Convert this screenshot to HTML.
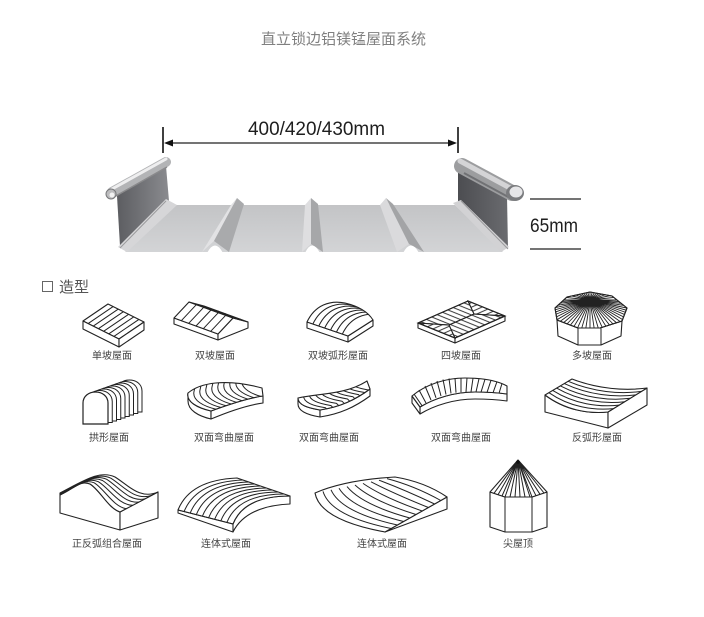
<!DOCTYPE html>
<html><head><meta charset="utf-8"><style>
html,body{margin:0;padding:0;background:#fff;}
svg{display:block;}
.o{fill:#fff;stroke:#222;stroke-width:1.1;stroke-linejoin:round;}
.s{fill:none;stroke:#222;stroke-width:1;}
.lb{font-family:"Liberation Sans","Noto Sans CJK SC",sans-serif;font-size:10px;fill:#444;text-anchor:middle;}
</style></head><body>
<svg width="704" height="617" viewBox="0 0 704 617" xmlns="http://www.w3.org/2000/svg" xmlns:xlink="http://www.w3.org/1999/xlink">
<defs>
<linearGradient id="gFlat" x1="0" y1="0" x2="0" y2="1"><stop offset="0" stop-color="#c3c4c6"/><stop offset="1" stop-color="#d3d4d6"/></linearGradient>
<linearGradient id="gLW" x1="0" y1="0" x2="1" y2="0"><stop offset="0" stop-color="#5c5d61"/><stop offset="1" stop-color="#8a8b8f"/></linearGradient>
<linearGradient id="gRW" x1="0" y1="0" x2="1" y2="0"><stop offset="0" stop-color="#4c4d51"/><stop offset="1" stop-color="#6a6b6f"/></linearGradient>
<pattern id="hA" patternUnits="userSpaceOnUse" width="4.2" height="10" patternTransform="rotate(112)"><line x1="2" y1="0" x2="2" y2="10" stroke="#222" stroke-width="0.9"/></pattern>
<pattern id="hB" patternUnits="userSpaceOnUse" width="4.2" height="10" patternTransform="rotate(66)"><line x1="2" y1="0" x2="2" y2="10" stroke="#222" stroke-width="0.9"/></pattern>
<clipPath id="cp3"><path d="M307,322 C315,305 330,300 345,303 C358,306 368,312 373,320 L348,336 Z"/></clipPath>
<clipPath id="cp5"><polygon points="567,297 590,292 612,296 627,308 622,321 600,328 578,328 557,320 555,308"/></clipPath>
<clipPath id="cp6"><path d="M211,411 C198,408 186,402 188,393 C200,383 225,378 262,388 L263,396 C248,398 230,404 211,411 Z"/></clipPath>
<clipPath id="cp7"><path d="M320,410 C308,408 298,405 298,398 C320,393 345,395 367,381 L370,389 C355,400 340,407 320,410 Z"/></clipPath>
<path id="a3" d="M307,322 C315,305 330,300 345,303 C358,306 368,312 373,320"/>
<path id="arch" d="M83,424 V403 C83,396 89,392 95.5,392 C102,392 108,396 108,403 V424 Z"/>
<path id="a6" d="M213,413 L211,411 C198,408 186,402 188,393 L190,384"/>
<path id="a7" d="M322,412 L320,410 C308,408 298,405 298,398 L300,390"/>
</defs>

<!-- Title -->
<text x="343.5" y="44" font-family="Liberation Sans,Noto Sans CJK SC,sans-serif" font-size="15" fill="#808080" text-anchor="middle">直立锁边铝镁锰屋面系统</text>

<!-- Dimension -->
<text x="248" y="135" font-family="Liberation Sans,sans-serif" font-size="19" fill="#1e1e1e" textLength="137" lengthAdjust="spacingAndGlyphs">400/420/430mm</text>
<line x1="163" y1="127" x2="163" y2="153" stroke="#111" stroke-width="1.6"/>
<line x1="458" y1="127" x2="458" y2="153" stroke="#111" stroke-width="1.6"/>
<line x1="168" y1="143" x2="453" y2="143" stroke="#222" stroke-width="1.3"/>
<polygon points="164,143 173,139.5 173,146.5" fill="#111"/>
<polygon points="457,143 448,139.5 448,146.5" fill="#111"/>

<!-- Panel -->
<polygon points="174,205 455,205 503,252 125,252" fill="url(#gFlat)"/>
<polygon points="231,205 237,198 214,241 202,252" fill="#e2e2e4"/>
<polygon points="237,198 244,204 229,252 214,241" fill="#a9aaac"/>
<path d="M207,253 Q215,238 223,253 Z" fill="#fff"/>
<polygon points="305,205 311,198 311,244 302,252" fill="#dedee0"/>
<polygon points="311,198 318,204 323,252 311,244" fill="#a6a7a9"/>
<path d="M305,253 Q312,238 320,253 Z" fill="#fff"/>
<polygon points="380,205 386,198 409,244 397,252" fill="#dadadc"/>
<polygon points="386,198 393,204 424,252 409,244" fill="#a3a4a6"/>
<path d="M403,253 Q411,238 419,253 Z" fill="#fff"/>
<!-- left wall -->
<polygon points="117,196 166,166 169,201 120,246" fill="url(#gLW)"/>
<polygon points="166,199 177,205 127,252 118,247" fill="#d6d6d8"/>
<line x1="166" y1="201" x2="120" y2="248" stroke="#9a9a9c" stroke-width="1"/>
<line x1="112" y1="192" x2="166" y2="162" stroke="#b3b4b6" stroke-width="10" stroke-linecap="round"/>
<line x1="112" y1="189" x2="166" y2="159" stroke="#eeeeef" stroke-width="3" stroke-linecap="round"/>
<line x1="114" y1="197" x2="167" y2="167" stroke="#8a8a8c" stroke-width="1.4"/>
<circle cx="111" cy="194" r="5" fill="#bcbcbe" stroke="#77787a" stroke-width="1"/>
<circle cx="112" cy="195" r="2.5" fill="#f2f2f2"/>
<!-- right wall -->
<polygon points="458,168 507,196 508,249 458,206" fill="url(#gRW)"/>
<polygon points="453,203 461,200 509,247 501,252" fill="#d2d2d4"/>
<line x1="461" y1="201" x2="508" y2="249" stroke="#9a9a9c" stroke-width="1"/>
<line x1="462" y1="166" x2="512" y2="193" stroke="#9c9d9f" stroke-width="16" stroke-linecap="round"/>
<line x1="460" y1="161" x2="510" y2="188" stroke="#d4d4d6" stroke-width="5" stroke-linecap="round"/>
<line x1="464" y1="173" x2="512" y2="199" stroke="#707174" stroke-width="2"/>
<ellipse cx="515" cy="193" rx="9" ry="8" fill="#7a7b7e"/>
<ellipse cx="516" cy="192" rx="6.5" ry="5.5" fill="#e6e6e8"/>
<!-- 65mm -->
<line x1="530" y1="199" x2="581" y2="199" stroke="#222" stroke-width="1.2"/>
<line x1="530" y1="249" x2="581" y2="249" stroke="#222" stroke-width="1.2"/>
<text x="530" y="232" font-family="Liberation Sans,sans-serif" font-size="19" fill="#1e1e1e" textLength="48" lengthAdjust="spacingAndGlyphs">65mm</text>

<!-- 造型 heading -->
<rect x="42.5" y="281.5" width="10" height="10" fill="none" stroke="#666" stroke-width="1"/>
<text x="59" y="292" font-family="Liberation Sans,Noto Sans CJK SC,sans-serif" font-size="15" fill="#555">造型</text>

<!-- Icon 1 单坡屋面 -->
<polygon class="o" points="83,321 108,304 144,322 119,339"/>
<polygon class="o" points="83,321 119,339 119,347 83,329"/>
<polygon class="o" points="119,339 144,322 144,330 119,347"/>
<path class="s" d="M88.1,323.6L113.1,306.6M93.3,326.1L118.3,309.1M98.4,328.7L123.4,311.7M103.6,331.3L128.6,314.3M108.7,333.9L133.7,316.9M113.9,336.4L138.9,319.4"/>

<!-- Icon 2 双坡屋面 -->
<polygon class="o" points="174,318 218,334 218,340 174,324"/>
<polygon class="o" points="218,334 233,318 248,322 248,328 218,340"/>
<polygon class="o" points="174,318 189,302 233,318 218,334"/>
<polygon class="o" points="189,302 204,306 248,322 233,318"/>
<path class="s" d="M196.3,304.7L181.3,320.7M203.7,307.3L188.7,323.3M211,310L196,326M218.3,312.7L203.3,328.7M225.7,315.3L210.7,331.3
M196.3,304.7L211.3,308.7M203.7,307.3L218.7,311.3M211,310L226,314M218.3,312.7L233.3,316.7M225.7,315.3L240.7,319.3"/>

<!-- Icon 3 双坡弧形屋面 -->
<path class="o" d="M307,322 L348,336 L348,342 L307,328 Z"/>
<path class="o" d="M348,336 L373,320 L373,326 L348,342 Z"/>
<path class="o" d="M307,322 C315,305 330,300 345,303 C358,306 368,312 373,320 L348,336 Z"/>
<g clip-path="url(#cp3)" class="s">
<use xlink:href="#a3" href="#a3" transform="translate(5.9,2)"/>
<use xlink:href="#a3" href="#a3" transform="translate(11.8,4)"/>
<use xlink:href="#a3" href="#a3" transform="translate(17.7,6)"/>
<use xlink:href="#a3" href="#a3" transform="translate(23.6,8)"/>
<use xlink:href="#a3" href="#a3" transform="translate(29.5,10)"/>
<use xlink:href="#a3" href="#a3" transform="translate(35.4,12)"/>
</g>

<!-- Icon 4 四坡屋面 -->
<polygon class="o" points="418,323 455,338 455,343 418,328"/>
<polygon class="o" points="455,338 505,316 505,321 455,343"/>
<polygon points="455,338 505,316 474,314 449,325" fill="url(#hA)" stroke="#222" stroke-width="1"/>
<polygon points="418,323 468,301 474,314 449,325" fill="url(#hA)" stroke="#222" stroke-width="1"/>
<polygon points="418,323 455,338 449,325" fill="url(#hB)" stroke="#222" stroke-width="1"/>
<polygon points="468,301 505,316 474,314" fill="url(#hB)" stroke="#222" stroke-width="1"/>
<polygon points="418,323 468,301 505,316 455,338" fill="none" stroke="#222" stroke-width="1.2"/>

<!-- Icon 5 多坡屋面 -->
<path class="o" d="M557,320 L578,328 L600,328 L622,321 L621,336 L601,345 L578,345 L558,336 Z"/>
<path class="s" d="M578,328V345M601,328V345"/>
<polygon class="o" points="567,297 590,292 612,296 627,308 622,321 600,328 578,328 557,320 555,308"/>
<g clip-path="url(#cp5)"><path fill="none" stroke="#222" stroke-width="0.9" d="
M590,300L640,300M590,300L639.2,305.2M590,300L637,310.3M590,300L633.3,315M590,300L628.3,319.3M590,300L622.2,323M590,300L615,326M590,300L607.1,328.2M590,300L598.7,329.6M590,300L590,330M590,300L581.3,329.6M590,300L572.9,328.2M590,300L565,326M590,300L557.8,323M590,300L551.7,319.3M590,300L546.7,315M590,300L543,310.3M590,300L540.8,305.2M590,300L540,300M590,300L540.8,294.8M590,300L543,289.7M590,300L546.7,285M590,300L551.7,280.7M590,300L557.8,277M590,300L565,274M590,300L572.9,271.8M590,300L581.3,270.4M590,300L590,270M590,300L598.7,270.4M590,300L607.1,271.8M590,300L615,274M590,300L622.2,277M590,300L628.3,280.7M590,300L633.3,285M590,300L637,289.7M590,300L639.2,294.8
M590,300L639.8,302.6M590,300L638.3,307.8M590,300L635.3,312.7M590,300L631,317.2M590,300L625.4,321.2M590,300L618.7,324.6M590,300L611.2,327.2M590,300L602.9,329M590,300L594.4,329.9M590,300L585.6,329.9M590,300L577.1,329M590,300L568.8,327.2M590,300L561.3,324.6M590,300L554.6,321.2M590,300L549,317.2M590,300L544.7,312.7M590,300L541.7,307.8M590,300L540.2,302.6"/></g>
<polygon points="567,297 590,292 612,296 627,308 622,321 600,328 578,328 557,320 555,308" fill="none" stroke="#222" stroke-width="1.1"/>

<!-- Row 2 Icon 拱形屋面 -->
<g fill="#fff" stroke="#222" stroke-width="1">
<use xlink:href="#arch" href="#arch" transform="translate(34,-12)"/>
<use xlink:href="#arch" href="#arch" transform="translate(29.75,-10.5)"/>
<use xlink:href="#arch" href="#arch" transform="translate(25.5,-9)"/>
<use xlink:href="#arch" href="#arch" transform="translate(21.25,-7.5)"/>
<use xlink:href="#arch" href="#arch" transform="translate(17,-6)"/>
<use xlink:href="#arch" href="#arch" transform="translate(12.75,-4.5)"/>
<use xlink:href="#arch" href="#arch" transform="translate(8.5,-3)"/>
<use xlink:href="#arch" href="#arch" transform="translate(4.25,-1.5)"/>
<use xlink:href="#arch" href="#arch" stroke-width="1.2"/>
</g>

<!-- Row 2 Icon 双面弯曲屋面 1 -->
<path class="o" d="M188,393 C186,402 198,408 211,411 L211,419 C198,416 188,410 188,401 Z"/>
<path class="o" d="M211,411 C230,404 248,398 263,396 L263,403 C248,405 230,411 211,419 Z"/>
<path class="o" d="M211,411 C198,408 186,402 188,393 C200,383 225,378 262,388 L263,396 C248,398 230,404 211,411 Z"/>
<g clip-path="url(#cp6)" class="s">
<use xlink:href="#a6" href="#a6" transform="translate(6,-1.5)"/>
<use xlink:href="#a6" href="#a6" transform="translate(12,-3)"/>
<use xlink:href="#a6" href="#a6" transform="translate(18,-4.5)"/>
<use xlink:href="#a6" href="#a6" transform="translate(24,-6)"/>
<use xlink:href="#a6" href="#a6" transform="translate(30,-7.5)"/>
<use xlink:href="#a6" href="#a6" transform="translate(36,-9)"/>
<use xlink:href="#a6" href="#a6" transform="translate(42,-10.5)"/>
<use xlink:href="#a6" href="#a6" transform="translate(48,-12)"/>
<use xlink:href="#a6" href="#a6" transform="translate(54,-13.5)"/>
</g>

<!-- Row 2 Icon 双面弯曲屋面 2 -->
<path class="o" d="M298,398 C298,405 308,408 320,410 L320,417 C308,415 298,411 298,404 Z"/>
<path class="o" d="M320,410 C340,407 355,400 370,389 L370,396 C355,407 340,414 320,417 Z"/>
<path class="o" d="M320,410 C308,408 298,405 298,398 C320,393 345,395 367,381 L370,389 C355,400 340,407 320,410 Z"/>
<g clip-path="url(#cp7)" class="s">
<use xlink:href="#a7" href="#a7" transform="translate(5.5,-2.2)"/>
<use xlink:href="#a7" href="#a7" transform="translate(11,-4.4)"/>
<use xlink:href="#a7" href="#a7" transform="translate(16.5,-6.6)"/>
<use xlink:href="#a7" href="#a7" transform="translate(22,-8.8)"/>
<use xlink:href="#a7" href="#a7" transform="translate(27.5,-11)"/>
<use xlink:href="#a7" href="#a7" transform="translate(33,-13.2)"/>
<use xlink:href="#a7" href="#a7" transform="translate(38.5,-15.4)"/>
<use xlink:href="#a7" href="#a7" transform="translate(44,-17.6)"/>
<use xlink:href="#a7" href="#a7" transform="translate(49.5,-19.8)"/>
</g>

<!-- Row 2 Icon 双面弯曲屋面 3 (curved band) -->
<path class="o" d="M420,407 C435,398 455,392 475,392 C492,392 500,393 507,394 L507,401 C500,400 492,399 475,399 C455,399 435,405 420,414 Z"/>
<path class="o" d="M412,396 L420,407 L420,414 L412,403 Z"/>
<path class="o" d="M412,396 C425,385 445,378 465,378 C485,378 498,381 507,386 L507,394 C500,393 492,392 475,392 C455,392 435,398 420,407 Z"/>
<path class="s" d="M414,394L422,405.7M419,390L426,403M425,386L431,400M431,383L436,397.8M437,381L441,396M443,379.5L446,394.5M449,378.5L451,393.4M455,378L456,392.7M461,378L461,392.2M467,378L466,392M473,378.3L471,392M479,378.7L476,392M485,379.3L481,392.2M491,380.3L487,392.5M497,381.6L493,392.8M502,383.5L499,393.3"/>

<!-- Row 2 Icon 反弧形屋面 -->
<path class="o" d="M545,395 C565,410 588,414 608,412 L608,428 L545,412 Z"/>
<path class="o" d="M608,412 L647,388 L647,405 L608,428 Z"/>
<path class="o" d="M545,395 C565,410 588,414 608,412 L647,388 C625,391 598,389 572,379 Z"/>
<path class="s" d="M548.9,392.7 C569.7,407 593.3,410.7 613.6,408.6
M552.7,390.4 C574.4,404 598.6,407.4 619.1,405.1
M556.6,388.1 C579.1,401 603.9,404.1 624.7,401.7
M560.4,385.9 C583.9,398 609.1,400.9 630.3,398.3
M564.3,383.6 C588.6,395 614.4,397.6 635.9,394.9
M568.1,381.3 C593.3,392 619.7,394.3 641.4,391.4"/>

<!-- Row 3 Icon 正反弧组合屋面 -->
<path class="o" d="M60,495 C75,488 80,480 90,484 C100,490 108,508 120,512 L120,530 L60,513 Z"/>
<path class="o" d="M120,512 L158,492 L158,518 L120,530 Z"/>
<path class="o" d="M60,495 C75,488 80,480 90,484 C100,490 108,508 120,512 L158,492 C140,500 128,485 115,477 C100,470 85,480 60,493 Z"/>
<path class="s" d="M60,494.7 C76.7,486.7 83.3,478.3 94.2,482.8 C104.7,489.2 113.3,506.7 126.3,508.7
M60,494.3 C78.3,485.3 86.7,476.7 98.3,481.7 C109.3,488.3 118.7,505.3 132.7,505.3
M60,494 C80,484 90,475 102.5,480.5 C114,487.5 124,504 139,502
M60,493.7 C81.7,482.7 93.3,473.3 106.7,479.3 C118.7,486.7 129.3,502.7 145.3,498.7
M60,493.3 C83.3,481.3 96.7,471.7 110.8,478.2 C123.3,485.8 134.7,501.3 151.7,495.3"/>

<!-- Row 3 Icon 连体式屋面 1 -->
<path class="o" d="M233,524 Q244,496 290,496 L290,504 Q246,506 233,532 Z"/>
<path class="o" d="M178,510 Q190,480 237,478 L290,496 Q244,496 233,524 Z"/>
<path class="s" d="M178,510L233,524M178,510L178,513L233,532
M184.1,511.6 Q196,481.8 242.9,480
M190.2,513.1 Q202,483.6 248.8,482
M196.3,514.7 Q208,485.3 254.7,484
M202.4,516.2 Q214,487.1 260.6,486
M208.6,517.8 Q220,488.9 266.4,488
M214.7,519.3 Q226,490.7 272.3,490
M220.8,520.9 Q232,492.4 278.2,492
M226.9,522.4 Q238,494.2 284.1,494"/>

<!-- Row 3 Icon 连体式屋面 2 -->
<path class="o" d="M385,532 L447,497 L447,509 Z"/>
<path class="o" d="M315,493 Q345,480 395,477 Q425,482 447,497 L385,532 Q320,520 315,493 Z"/>
<path class="s" d="M323,491.4 Q330.5,516.2 391.2,528.5
M331,489.8 Q341,512.4 397.4,525
M339,488.2 Q351.5,508.6 403.6,521.5
M347,486.6 Q362,504.8 409.8,518
M355,485 Q372.5,501 416,514.5
M363,483.4 Q383,497.2 422.2,511
M371,481.8 Q393.5,493.4 428.4,507.5
M379,480.2 Q404,489.6 434.6,504
M387,478.6 Q414.5,485.8 440.8,500.5"/>

<!-- Row 3 Icon 尖屋顶 -->
<path class="o" d="M490,492 L505,497 L532,497 L547,492 L547,527 L532,532 L505,532 L490,527 Z"/>
<path class="s" d="M505,497V532M532,497V532"/>
<path class="o" d="M518,460 L490,492 L505,497 L532,497 L547,492 Z"/>
<path class="s" d="M518,460L494,493.3M518,460L498,494.7M518,460L502,496M518,460L505,497M518,460L510,497M518,460L515,497M518,460L520,497M518,460L525,497M518,460L530,497M518,460L532,497M518,460L536,495.7M518,460L540,494.3M518,460L544,493"/>
<circle cx="518" cy="462" r="1.8" fill="#111"/>

<!-- Labels -->
<text class="lb" x="112" y="359">单坡屋面</text>
<text class="lb" x="215" y="359">双坡屋面</text>
<text class="lb" x="338" y="359">双坡弧形屋面</text>
<text class="lb" x="461" y="359">四坡屋面</text>
<text class="lb" x="592" y="359">多坡屋面</text>
<text class="lb" x="109" y="441">拱形屋面</text>
<text class="lb" x="224" y="441">双面弯曲屋面</text>
<text class="lb" x="329" y="441">双面弯曲屋面</text>
<text class="lb" x="461" y="441">双面弯曲屋面</text>
<text class="lb" x="597" y="441">反弧形屋面</text>
<text class="lb" x="107" y="547">正反弧组合屋面</text>
<text class="lb" x="226" y="547">连体式屋面</text>
<text class="lb" x="382" y="547">连体式屋面</text>
<text class="lb" x="518" y="547">尖屋顶</text>
</svg>
</body></html>
